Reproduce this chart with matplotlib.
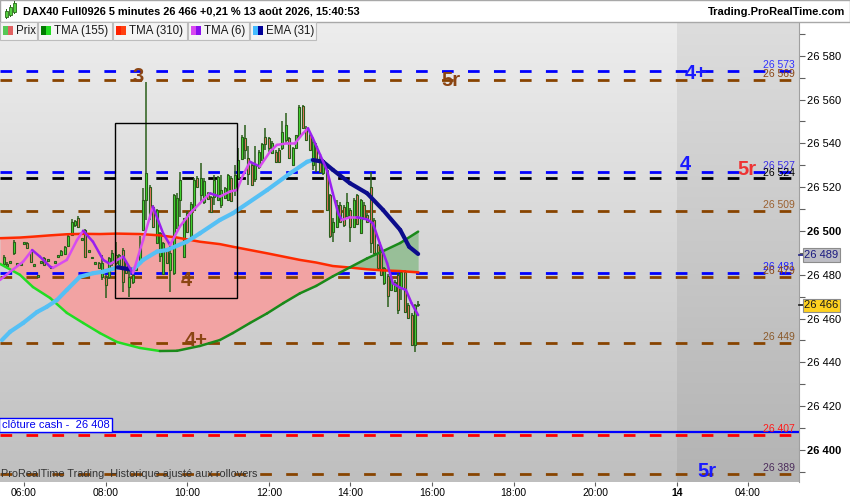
import numpy as np
import matplotlib.pyplot as plt
import matplotlib.colors as mcolors
import matplotlib.transforms as mtransforms
from matplotlib.collections import LineCollection
from matplotlib.patches import Rectangle

plt.rcParams['font.family'] = ['Liberation Sans', 'DejaVu Sans']
plt.rcParams['lines.scale_dashes'] = False

W, H = 850, 500

# ---- price bars: 5 minutes, first bar 05:30, last bar 15:40 ----
first_bar = 5.5
bar_hours = 5 / 60

opens = [26485, 26484, 26485.5, 26490, 26485, 26484.5, 26494, 26494.5, 26490.5, 26484,
         26479, 26485.5, 26487.5, 26486.5, 26483, 26485.5, 26488, 26489, 26489.5, 26493,
         26498, 26502.5, 26506, 26496, 26500.5, 26490.5, 26487.5, 26485, 26485.5, 26479,
         26479, 26479, 26485.5, 26489, 26484.5, 26491.5, 26485.5, 26474.5, 26476.5, 26482,
         26485.5, 26500.5, 26514, 26520, 26511, 26494.5, 26488.5, 26480.5, 26491, 26482,
         26481, 26501.5, 26514, 26488, 26508, 26497.5, 26509.5, 26524, 26516.5, 26513,
         26517.5, 26515.5, 26515.5, 26514, 26512, 26515, 26514, 26524, 26518.5, 26524,
         26533, 26542.5, 26533.5, 26530, 26523.5, 26529, 26532.5, 26543, 26542.5, 26535.5,
         26536, 26537, 26538, 26541.5, 26542.5, 26530, 26538, 26543, 26557, 26547,
         26543.8, 26530, 26539, 26533, 26526.5, 26528, 26516.5, 26499.5, 26502, 26512,
         26511, 26507, 26509.6, 26502, 26516.5, 26499, 26512, 26507.3, 26520, 26505,
         26493.6, 26491.3, 26476.3, 26479.5, 26473.1, 26472.6, 26479.9, 26474.4, 26481.3, 26466.2,
         26461.6, 26448, 26466]
highs = [26489, 26486, 26486.5, 26496, 26485.5, 26485.5, 26495, 26495, 26491, 26484.5,
         26480, 26486, 26488, 26487, 26483.5, 26486, 26489, 26491.5, 26493, 26498,
         26505.5, 26505, 26507, 26496.5, 26501, 26491, 26488, 26486, 26486, 26489,
         26480, 26488, 26491.5, 26495, 26489.5, 26492, 26486, 26482, 26480.5, 26484.5,
         26497.5, 26519.5, 26568, 26521, 26512, 26510, 26499.5, 26495, 26491.5, 26493.5,
         26517, 26517.5, 26527, 26506, 26509, 26513, 26524, 26525, 26531, 26524,
         26518, 26516, 26525.5, 26525, 26525.5, 26520, 26526, 26525, 26530, 26538,
         26544, 26548.5, 26539, 26531, 26539, 26537, 26540, 26547, 26543, 26541,
         26537, 26538, 26550, 26554, 26543, 26538.5, 26544, 26557.5, 26557.5, 26548,
         26545, 26541.5, 26540, 26534, 26533, 26529, 26517, 26506, 26514, 26513,
         26512, 26517.5, 26510.5, 26515, 26517, 26514.5, 26513, 26508, 26527, 26506,
         26494, 26492, 26483.5, 26480.5, 26479, 26477.5, 26481, 26481.5, 26482, 26467,
         26462.5, 26466.5, 26468]
lows = [26484, 26483, 26485, 26489, 26484, 26484.5, 26493.5, 26492, 26486, 26483.5,
        26478.5, 26485, 26484.5, 26486, 26482.5, 26485.5, 26487.5, 26488.5, 26489, 26492.5,
        26497.5, 26502, 26501.5, 26495.5, 26488, 26490, 26487, 26485, 26483, 26477.5,
        26469.5, 26478, 26484, 26482, 26484, 26472, 26480.5, 26470, 26476, 26481.5,
        26485, 26500, 26505, 26505, 26501.5, 26494, 26486, 26480, 26485, 26472,
        26480, 26501, 26506.5, 26487.5, 26499, 26497, 26509, 26520, 26513, 26512.5,
        26514, 26508, 26512, 26513.5, 26510.5, 26514.5, 26513.5, 26513, 26516, 26523.5,
        26532.5, 26533, 26521, 26520.5, 26522.5, 26528.5, 26532, 26537, 26536, 26535,
        26531, 26531, 26537, 26540, 26533, 26529.5, 26537.5, 26542.5, 26546.5, 26541,
        26536.5, 26528, 26527, 26526.5, 26525.5, 26509, 26497, 26495, 26501.5, 26503.5,
        26502, 26506.5, 26495, 26501.5, 26502.5, 26498.5, 26505, 26504, 26490, 26489.5,
        26483, 26479.5, 26475.5, 26465.3, 26472.5, 26472, 26462, 26468.5, 26462.5, 26460,
        26447.5, 26444.8, 26465.5]
closes = [26488, 26485, 26486, 26495, 26484.5, 26485, 26495, 26492, 26486, 26484.5,
          26480, 26486, 26484.5, 26487, 26483, 26486, 26489, 26491, 26492.5, 26497.5,
          26504, 26504.5, 26502, 26496.5, 26488, 26491, 26488, 26485.5, 26483, 26485.5,
          26475.5, 26487.5, 26490, 26485.5, 26489, 26476.5, 26481, 26479, 26480, 26484,
          26492.5, 26514, 26526.5, 26508, 26502, 26509.5, 26499, 26494.5, 26485.5, 26490,
          26516.5, 26515, 26523.3, 26506, 26499.5, 26512.5, 26523.3, 26520, 26524, 26523,
          26514.5, 26508.5, 26523.3, 26524.5, 26518.5, 26519.5, 26525.5, 26513.5, 26525.5, 26532.5,
          26543, 26537, 26526, 26521, 26530, 26536, 26539.5, 26539.5, 26538, 26540,
          26531.5, 26531.5, 26545, 26548.5, 26533.5, 26538, 26543.8, 26556.5, 26547, 26541.6,
          26537, 26540.6, 26533, 26527, 26532.4, 26509.6, 26497.7, 26504, 26512, 26504,
          26502.7, 26513, 26502, 26514, 26503, 26514, 26505.5, 26504.1, 26494.5, 26490,
          26483.1, 26480, 26483.1, 26470.3, 26478.5, 26476.7, 26463.9, 26481.3, 26463, 26460.3,
          26448, 26466.2, 26466]

# ---- indicators (time in hours) ----
tma_times = [5.41, 5.90, 6.22, 6.64, 7.05, 7.45, 7.86, 8.28, 8.84, 9.33, 9.75, 10.31, 10.80,
             11.12, 11.54, 11.96, 12.36, 12.76, 13.16, 13.57, 13.99, 14.41, 14.80, 15.22, 15.66]
tma155 = [26485, 26480, 26474.4, 26469.4, 26462.6, 26458, 26453.4, 26449.3, 26446.6, 26445.2,
          26445.3, 26447.5, 26450.2, 26453.4, 26458, 26462.4, 26467.1, 26471.5, 26474.9, 26479.3,
          26483.4, 26487.5, 26490.8, 26494.5, 26499.7]
tma310 = [26496.7, 26497, 26497.4, 26498, 26498.5, 26498.7, 26498.6, 26498.8, 26498.6, 26498,
          26497, 26495.1, 26494, 26492.8, 26491.3, 26489.8, 26488.3, 26486.8, 26485.6, 26484,
          26483.3, 26482.5, 26482, 26481.7, 26481.1]

ema_times = [5.46, 5.66, 5.98, 6.32, 6.56, 6.81, 7.05, 7.37, 7.69, 7.94, 8.30, 8.67, 8.92,
             9.26, 9.50, 9.99, 10.31, 10.80, 11.12, 11.96, 12.52, 12.94, 13.08, 13.33, 13.57,
             13.99, 14.41, 14.80, 15.22, 15.44, 15.66]
ema31 = [26450.2, 26454, 26458, 26463, 26465.4, 26468.5, 26473.1, 26479.1, 26480.7, 26481.4,
         26483.4, 26482.2, 26486.8, 26490.6, 26491.3, 26495.1, 26498.9, 26505, 26508.1, 26518.7,
         26526.3, 26531.6, 26532.4, 26531.6, 26527.9, 26521.8, 26517.2, 26509.6, 26500.5, 26492.8,
         26489.5]

tma6_times = [5.41, 5.66, 5.98, 6.20, 6.39, 6.64, 6.71, 7.05, 7.30, 7.45, 7.69, 7.94, 8.11,
              8.43, 8.67, 8.92, 9.16, 9.41, 9.58, 9.82, 10.07, 10.31, 10.56, 10.80, 11.05,
              11.22, 11.37, 11.54, 11.78, 12.03, 12.20, 12.45, 12.64, 12.84, 12.96, 13.08,
              13.26, 13.43, 13.57, 13.70, 13.79, 13.99, 14.16, 14.41, 14.55, 14.72, 14.90,
              15.04, 15.22, 15.36, 15.50, 15.66]
tma6 = [26477.6, 26481.4, 26486, 26491.3, 26488.3, 26483.7, 26483.2, 26486.8, 26495.9, 26500.1,
        26495.1, 26486.8, 26484.9, 26488.3, 26480.7, 26495.9, 26511.1, 26498.9, 26493.6, 26502,
        26508.1, 26512.6, 26517.2, 26515.7, 26518, 26518.7, 26525.6, 26531.6, 26529.4, 26536.2,
        26539.3, 26540, 26540, 26544.6, 26546.9, 26542.3, 26534.7, 26527.5, 26517.2, 26508.1,
        26505, 26506.3, 26506.3, 26505.3, 26503.5, 26494.4, 26485.3, 26476.1, 26474.1, 26473.1,
        26467, 26461.6]

# ---- horizontal levels ----
levels = [26573, 26569, 26527, 26524, 26509, 26481, 26479, 26449, 26407, 26389]
level_colors = ['#0000ff', '#884400', '#0000ff', '#000000', '#884400',
                '#0000ff', '#884400', '#884400', '#ff0000', '#884400']
level_text_colors = ['#3030ff', '#8b4513', '#3a2ee8', '#000000', '#9a6030',
                     '#2020ff', '#8b4513', '#8b5a2b', '#ff1a1a', '#4b2b5b']
cash_close = 26408

marks = ['3', '5r', '4+', '4', '5r', '4', '4+', '5r']
mark_times = [8.79, 16.47, 22.47, 22.22, 23.72, 9.97, 10.23, 22.73]
mark_prices = [26570.3, 26568.9, 26572.1, 26530.4, 26527.9, 26477.4, 26450.2, 26390.2]
mark_colors = ['#8b4513', '#8b4513', '#1a1aff', '#1a1aff', '#ee3333', '#8b4513', '#8b4513', '#1a1aff']

box_times = [8.23, 11.22]
box_prices = [26469.4, 26549.3]

last_price = 26466
ema_last = 26489

xtick_pos = [6, 8, 10, 12, 14, 16, 18, 20, 22, 23.74]
xtick_labels = ['06:00', '08:00', '10:00', '12:00', '14:00', '16:00', '18:00', '20:00', '14', '04:00']
x_lo, x_hi = 5.412, 24.995
y_lo, y_hi = 26385.4, 26595.4
future_start = 22.0

legend_items = ['Prix', 'TMA (155)', 'TMA (310)', 'TMA (6)', 'EMA (31)']
legend_icons = [('#55c855', '#e06060'), ('#007a00', '#22dd22'), ('#ff2200', '#ff4010'),
                ('#d848f0', '#8a10f0'), ('#44bbff', '#000099')]


def fig_box(x, y, w, h):
    return [x / W, 1 - (y + h) / H, w / W, h / H]


def vgrad(top, bottom, n=200):
    t = np.linspace(0, 1, n)[:, None]
    a = np.array(mcolors.to_rgb(top))
    b = np.array(mcolors.to_rgb(bottom))
    return (a * (1 - t) + b * t)[:, None, :]


def slope_line(ax, xs, ys, up, down, lw, z):
    pts = np.column_stack([xs, ys])
    segs = np.stack([pts[:-1], pts[1:]], axis=1)
    cols = [up if b >= a else down for a, b in zip(ys[:-1], ys[1:])]
    ax.add_collection(LineCollection(segs, colors=cols, linewidths=lw, zorder=z,
                                     capstyle='round', joinstyle='round'))


fig = plt.figure(figsize=(W / 100, H / 100), dpi=100)
fig.patch.set_facecolor('white')
ax = fig.add_axes(fig_box(0, 22, 799, 460))

# background
ax.imshow(vgrad('#ededed', '#bfbfbf'), extent=[x_lo, future_start, y_lo, y_hi],
          aspect='auto', origin='upper', zorder=0)
ax.imshow(vgrad('#dddddd', '#b3b3b3'), extent=[future_start, x_hi, y_lo, y_hi],
          aspect='auto', origin='upper', zorder=0)

# TMA cloud
t_tma = np.array(tma_times)
g = np.array(tma155)
r = np.array(tma310)
ax.fill_between(t_tma, g, r, where=r >= g, interpolate=True, color='#f2a3a3', lw=0, zorder=1)
ax.fill_between(t_tma, g, r, where=g >= r, interpolate=True, color='#98bf98', lw=0, zorder=1)

# horizontal levels
for lv, lc, tc in zip(levels, level_colors, level_text_colors):
    ax.plot([x_lo, x_hi], [lv, lv], color=lc, lw=2.0, dashes=(8.4, 10.3),
            solid_capstyle='butt', dash_capstyle='butt', zorder=2)
    ax.text(24.90, lv + 0.4, f'{lv:,}'.replace(',', ' '), color=tc, fontsize=7.5,
            ha='right', va='bottom', zorder=6)
ax.plot([x_lo, x_hi], [cash_close, cash_close], color='#0000ff', lw=1.6, zorder=2.5)
ax.text(x_lo + 0.04, cash_close + 1.2, f'clôture cash -  {cash_close:,}'.replace(',', ' '),
        color='#0000ee', fontsize=8, ha='left', va='bottom', zorder=6,
        bbox=dict(boxstyle='square,pad=0.2', fc='white', ec='#0000ff', lw=1))

# box
ax.add_patch(Rectangle((box_times[0], box_prices[0]), box_times[1] - box_times[0],
                       box_prices[1] - box_prices[0], fill=False, ec='black', lw=1, zorder=5))

# candles
o = np.array(opens)
hi = np.array(highs)
lo = np.array(lows)
c = np.array(closes)
t = first_bar + np.arange(len(o)) * bar_hours
up = c >= o
ax.vlines(t, lo, hi, color='#2a5e1a', lw=1.1, zorder=3)
ax.bar(t, np.maximum(np.abs(c - o), 0.7), bottom=np.minimum(o, c), width=0.05,
       color=np.where(up, '#44dd33', '#ee7766'), edgecolor='#2a5e1a', linewidth=0.8, zorder=3.5)

# indicators
ax.plot(tma_times, tma310, color='#ff2a00', lw=1.8, zorder=4)
slope_line(ax, np.array(tma_times), g, '#1a8a1a', '#22dd22', 1.8, 4)
slope_line(ax, np.array(ema_times), np.array(ema31), '#55c0f5', '#0c0c8c', 3.0, 4.2)
slope_line(ax, np.array(tma6_times), np.array(tma6), '#d84cf0', '#9a1ff0', 1.8, 4.4)

for m, mt, mp, mc in zip(marks, mark_times, mark_prices, mark_colors):
    ax.text(mt, mp, m, color=mc, fontsize=14.5, fontweight='bold', ha='center', va='center', zorder=6)

ax.text(x_lo + 0.03, levels[-1], 'ProRealTime Trading  Historique ajusté aux rollovers',
        fontsize=7.8, color='#333333', ha='left', va='center', zorder=6)

# axes
ax.set_xlim(x_lo, x_hi)
ax.set_ylim(y_lo, y_hi)
for s in ['left', 'top', 'bottom']:
    ax.spines[s].set_visible(False)
ax.spines['right'].set_color('#a0a0a0')
ax.spines['right'].set_linewidth(0.8)

ax.set_xticks(xtick_pos)
ax.set_xticklabels(xtick_labels, fontsize=7.5)
for lab, txt in zip(ax.get_xticklabels(), xtick_labels):
    if ':' not in txt:
        lab.set_fontweight('bold')
ax.tick_params(axis='x', length=3, width=0.8, color='#606060', pad=1.5)

ax.yaxis.tick_right()
yt = np.arange(26400, 26581, 20)
ax.set_yticks(yt)
ax.set_yticklabels([f'{v:,}'.replace(',', ' ') for v in yt], fontsize=8)
for lab, v in zip(ax.get_yticklabels(), yt):
    if v % 100 == 0:
        lab.set_fontweight('bold')
ax.set_yticks(np.arange(26390, 26591, 10), minor=True)
ax.tick_params(axis='y', which='both', length=4, width=0.8, color='#606060', pad=2)

blend = mtransforms.blended_transform_factory(ax.transAxes, ax.transData)
for v, fc, tc in [(ema_last, '#bdbdc4', '#1a1a80'), (last_price, '#ffd21f', '#1a1a1a')]:
    ax.plot([1.0, 1.006], [v, v], color=tc, lw=1.2, transform=blend, clip_on=False, zorder=7)
    ax.text(1.0 + 5.5 / 799, v, f'{v:,}'.replace(',', ' '), transform=blend, fontsize=8,
            color=tc, ha='left', va='center', zorder=8,
            bbox=dict(boxstyle='square,pad=0.15', fc=fc, ec='#8c8c8c', lw=0.8))

# header bar
fig.patches.append(Rectangle(fig_box(0, 0.5, 849.5, 21)[:2], 849.5 / W, 21 / H,
                             transform=fig.transFigure, fc='white', ec='#a8a8a8', lw=1))
icon = [(5, 11, 3, 6), (9, 7, 3, 8), (13, 3, 3, 9)]
for x, y, w, h in icon:
    fig.patches.append(Rectangle(fig_box(x + 1, y - 2, 0.8, h + 4)[:2], 0.8 / W, (h + 4) / H,
                                 transform=fig.transFigure, fc='#2a6a1a', ec='none'))
    fig.patches.append(Rectangle(fig_box(x, y, w, h)[:2], w / W, h / H,
                                 transform=fig.transFigure, fc='#55d040', ec='#2a6a1a', lw=0.6))
fig.text(23 / W, 1 - 11 / H, 'DAX40 Full0926 5 minutes 26 466 +0,21 % 13 août 2026, 15:40:53',
         fontsize=7.9, fontweight='bold', ha='left', va='center')
fig.text(845 / W, 1 - 12 / H, 'Trading.ProRealTime.com', fontsize=8, fontweight='bold',
         ha='right', va='center')

# legend strip
edges = [0, 38, 113, 188, 250, 317]
for k, (name, (c1, c2)) in enumerate(zip(legend_items, legend_icons)):
    x0, x1 = edges[k], edges[k + 1] - 1
    fig.patches.append(Rectangle(fig_box(x0, 22.5, x1 - x0, 17)[:2], (x1 - x0) / W, 17 / H,
                                 transform=fig.transFigure, fc='#f4f4f4', ec='#bdbdbd', lw=0.8))
    fig.patches.append(Rectangle(fig_box(x0 + 3, 26, 5, 9)[:2], 5 / W, 9 / H,
                                 transform=fig.transFigure, fc=c1, ec='none'))
    fig.patches.append(Rectangle(fig_box(x0 + 8, 26, 5, 9)[:2], 5 / W, 9 / H,
                                 transform=fig.transFigure, fc=c2, ec='none'))
    fig.text((x0 + 16) / W, 1 - 31 / H, name, fontsize=8.3, color='#1a1a1a', ha='left', va='center')

fig.savefig('out.png', dpi=100)
